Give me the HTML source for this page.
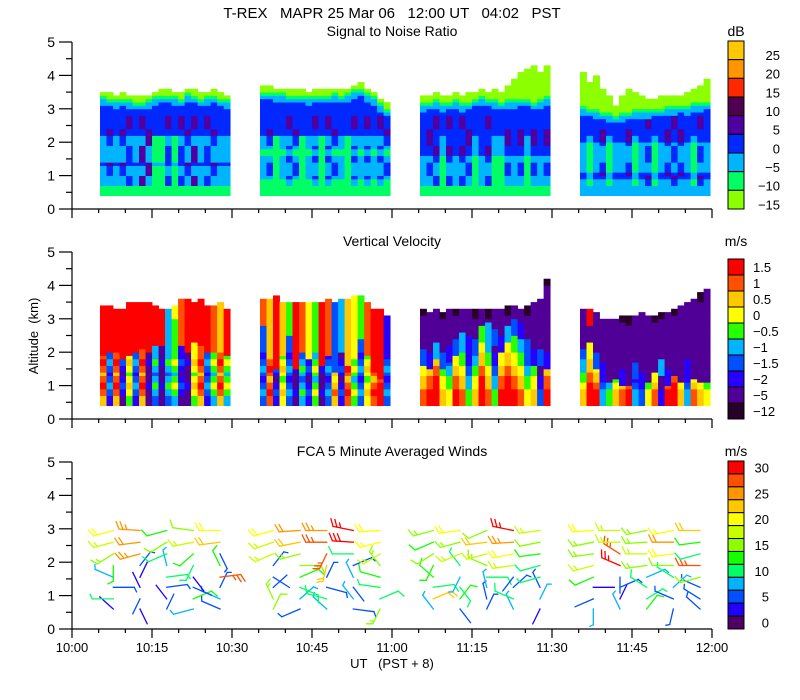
<!DOCTYPE html>
<html><head><meta charset="utf-8"><style>
html,body{margin:0;padding:0;background:#fff;}
svg{display:block;font-family:"Liberation Sans",sans-serif;}
text{white-space:pre;}
</style></head><body>
<svg id="chart" width="800" height="700" viewBox="0 0 800 700" xmlns="http://www.w3.org/2000/svg" xml:space="preserve">
<text x="392" y="18" font-size="15" text-anchor="middle">T-REX   MAPR 25 Mar 06   12:00 UT   04:02   PST</text>
<text x="392" y="36" font-size="14" text-anchor="middle">Signal to Noise Ratio</text>
<text x="392" y="246" font-size="14" text-anchor="middle">Vertical Velocity</text>
<text x="392" y="456" font-size="14" text-anchor="middle">FCA 5 Minute Averaged Winds</text>
<text x="736" y="36" font-size="14" text-anchor="middle">dB</text>
<text x="736" y="246" font-size="14" text-anchor="middle">m/s</text>
<text x="736" y="456" font-size="14" text-anchor="middle">m/s</text>
<text x="0" y="0" font-size="13" text-anchor="middle" transform="translate(38,336) rotate(-90)">Altitude  (km)</text>
<text x="392" y="668" font-size="13" text-anchor="middle">UT   (PST + 8)</text>
<g id="layer"></g>
</svg>
<script>
// ---------- data ----------
const segStart = [5.25, 35.25, 65.25, 95.25];
const segDur = 24.4;
const snrLabels = ['25','20','15','10','5','0','\u22125','\u221210','\u221215'];
const velLabels = ['1.5','1','0.5','0','\u22120.5','\u22121','\u22121.5','\u22122','\u22125','\u221212'];
const windLabels = ['30','25','20','15','10','5','0'];
const xTickLabels = ['10:00','10:15','10:30','10:45','11:00','11:15','11:30','11:45','12:00'];
const yTickLabels = ['0','1','2','3','4','5'];

// SNR (class indices 0=lime ... 8=amber)
const snrProfile1 = [1,2,2,2,3,2,2,2,2,3,3,3,3,3,3,3,3,3];
const snrProfile2 = [1,1,2,2,2,2,1,2,2,3,3,3,3,3,3,3,3,3];
const snrProfile3 = [1,2,2,2,2,2,3,3,3,3,3,3,3,3,3,3,3,3];
const snrProfile4 = [2,2,3,2,2,2,2,2,3,3,3,3,3,3,3,3,3,3];
const snrTop1 = [3.5,3.45,3.4,3.45,3.4,3.35,3.35,3.4,3.5,3.55,3.55,3.5,3.45,3.6,3.55,3.45,3.5,3.55,3.45,3.4];
const snrTop2 = [3.65,3.65,3.6,3.6,3.55,3.55,3.55,3.5,3.55,3.55,3.55,3.6,3.55,3.6,3.7,3.75,3.6,3.5,3.3,3.15];
const snrTop3 = [3.3,3.35,3.4,3.3,3.35,3.4,3.3,3.35,3.45,3.5,3.45,3.4,3.35,3.4,3.4,3.45,3.45,3.35,3.4,3.5];
const snrTop4 = [3.2,3.15,3.1,3.05,3.0,2.95,3.0,3.05,3.1,3.1,3.1,3.15,3.15,3.2,3.2,3.25,3.2,3.3,3.3,3.35];
const snrExt3 = [3.4,3.4,3.5,3.4,3.4,3.5,3.4,3.5,3.5,3.6,3.5,3.6,3.5,3.7,3.9,4.1,4.2,4.3,4.1,4.3];
const snrExt4 = [4.1,3.8,4.0,3.6,3.4,3.1,3.4,3.6,3.5,3.4,3.3,3.3,3.4,3.4,3.4,3.4,3.5,3.6,3.7,3.9];
const snrAnom1 = [0,1,0,1,1,0,2,2,-1,-1,1,-1,1,1,2,0,1,1,0,0];
const snrAnom2 = [0,1,-1,0,1,1,-1,0,1,-1,1,1,0,-1,1,0,1,0,1,1];
const snrAnom3 = [0,1,1,-1,1,0,1,1,-1,0,1,-1,-1,1,0,1,-1,1,0,1];
const snrAnom4 = [0,-1,0,1,-1,0,0,1,-1,0,1,-1,0,1,1,1,0,-1,1,0];

// Vertical velocity (class 0=-12 ... 9=1.5)
const velTop1 = [3.35,3.35,3.3,3.3,3.5,3.5,3.5,3.45,3.4,3.25,3.3,3.4,3.55,3.6,3.45,3.55,3.4,3.35,3.5,3.3];
const velTop2 = [3.6,3.6,3.65,3.5,3.5,3.5,3.5,3.5,3.5,3.5,3.55,3.5,3.55,3.6,3.65,3.7,3.5,3.3,3.3,3.1];
const velTop3 = [3.3,3.2,3.3,3.2,3.25,3.3,3.3,3.3,3.25,3.3,3.25,3.3,3.3,3.35,3.4,3.3,3.35,3.45,3.6,4.2];
const velTop4 = [3.25,3.25,3.15,3.0,3.0,3.0,3.1,3.05,3.1,3.15,3.1,3.1,3.2,3.2,3.3,3.4,3.5,3.6,3.75,3.85];
const velUpper1 = [9,9,9,9,9,9,9,9,9,9,7,6,8,9,9,9,9,8,7,9];
const velUpper2 = [8,7,9,7,5,9,8,6,5,9,8,3,4,7,6,5,8,9,9,2];
const velUpper3 = [1,1,1,1,1,1,1,1,1,1,1,1,1,1,1,1,1,1,1,1];
const velUpper4 = [1,9,1,1,1,1,1,1,1,1,1,1,1,1,1,1,1,1,1,1];
const velSplit1 = [1.9,2.0,2.0,1.8,1.9,2.0,2.1,2.0,2.2,2.2,3.3,3.0,2.2,2.0,2.3,2.2,2.0,2.0,2.0,1.9];
const velSplit2 = [2.8,2.0,1.5,1.9,2.5,1.5,2.0,1.8,2.2,1.6,1.9,1.4,2.0,1.6,1.8,2.4,1.9,1.6,1.2,2.0];
const velSplit3 = [1.6,1.5,1.8,1.5,1.7,1.9,2.1,2.0,1.9,2.3,2.4,2.2,2.0,2.3,2.5,2.4,1.9,1.6,1.6,1.5];
const velSplit4 = [2.1,2.3,1.5,1.2,1.1,1.2,1.0,1.0,1.2,0.9,1.1,1.4,1.3,1.0,1.3,1.1,1.3,1.2,1.1,1.1];
const velLower1 = [8,3,8,2,6,3,8,1,4,1,4,5,2,1,6,8,3,5,8,5];
const velLower2 = [3,8,2,6,3,1,4,2,5,1,3,7,2,8,5,3,6,8,9,3];
const velLower3 = [7,8,9,6,5,8,7,4,6,9,7,4,8,9,8,7,5,6,2,8];
const velLower4 = [6,9,8,3,4,6,7,8,3,2,5,7,1,8,9,6,3,7,6,5];
const velRowMod1 = [-1,0,1,0,-1,0,1,0,0,0,0,0,0,0,0,0,0,0];
const velRowMod2 = [0,1,0,-1,0,1,0,-1,0,0,0,0,0,0,0,0,0,0];
const velRowMod3 = [1,1,0,0,-1,-1,-2,-2,-3,-3,-3,-3,-3,-3,-3,-3,-3,-3];
const velRowMod4 = [1,1,0,-1,-1,-2,-2,-3,-3,-3,-3,-3,-3,-3,-3,-3,-3,-3];
const velMid3 = [3,2,4,3,2,3,4,2,3,5,4,3,2,4,3,2,3,2,3,2];
const velMid4 = [1,1,3,2,1,1,2,1,3,2,1,1,4,2,1,1,2,1,1,1];
const velCap3 = [1,0,0,1,0,1,0,0,1,0,1,0,0,1,0,0,1,0,0,1];
const velCap4 = [0,0,0,0,0,0,1,1,0,0,0,1,1,0,1,0,0,0,1,0];

// Winds: levels (km), 5 times per segment; speed (m/s) & direction (deg from)
const windLevels = [0.6,0.9,1.25,1.55,1.9,2.25,2.6,2.95];
const windSpd1 = [3,2,4,8,6, 9,4,3,12,7, 6,2,6,4,5, 8,2,9,3,28, 12,6,8,10,13, 15,26,10,12,5, 17,24,14,18,22, 20,26,13,14,20];
const windDir1 = [320,160,20,250,300, 270,200,330,60,300, 90,340,80,120,20, 300,20,80,150,80, 180,30,350,200,340, 230,250,240,220,160, 250,260,230,255,260, 250,275,250,280,270];
const windSpd2 = [14,5,7,6,15, 16,7,10,8,10, 4,10,5,4,9, 4,12,6,7,12, 5,15,22,6,15, 17,15,27,10,18, 18,22,28,30,19, 20,24,25,29,21];
const windDir2 = [20,240,320,100,200, 340,40,290,330,60, 40,120,110,150,280, 130,60,20,340,290, 30,90,190,60,330, 240,250,200,270,230, 245,255,270,275,250, 250,265,270,285,265];
const windSpd3 = [7,4,6,8,3, 22,13,5,10,7, 10,11,8,5,6, 12,7,11,4,9, 13,9,15,17,10, 14,18,17,20,13, 13,16,22,26,14, 16,20,14,29,18];
const windDir3 = [330,150,20,340,200, 60,30,350,300,20, 80,150,350,40,340, 320,200,90,210,250, 200,330,300,260,250, 230,240,250,255,260, 240,250,260,265,255, 250,260,240,285,260];
const windSpd4 = [7,8,13,5,6, 4,3,9,6,5, 2,5,10,7,6, 12,4,7,9,16, 17,29,15,14,28, 16,27,18,21,11, 15,17,16,24,13, 21,18,16,19,22];
const windDir4 = [180,340,30,190,320, 240,20,50,300,310, 90,60,310,40,300, 240,180,60,310,250, 250,300,260,270,270, 260,310,270,260,250, 255,270,265,270,260, 265,270,255,255,270];

// ---------- styles ----------
const snrColors = ['#8cff00','#00ff64','#00b4ff','#0028ff','#5000a0','#500050','#ff2800','#ff9600','#ffc800'];
const velColors = ['#280028','#500096','#2800ff','#0050ff','#00b4ff','#28ff00','#ffff00','#ffc800','#ff5000','#ff0000'];
const windColors = ['#500064','#2000ff','#0050ff','#00b4ff','#00ff64','#14ff00','#8cff00','#c8ff00','#ffff00','#ffc800','#ff9600','#ff5000','#ff0000'];
const bases = [209, 419, 629];
const KM = 33.4;
const X = m => 72 + m * 640 / 120;
const Y = (a, p) => bases[p] - a * KM;
const NS = 'http://www.w3.org/2000/svg';
const layer = document.getElementById('layer');
function mk(tag, attrs, parent) {
  const e = document.createElementNS(NS, tag);
  for (const k in attrs) e.setAttribute(k, attrs[k]);
  (parent || layer).appendChild(e);
  return e;
}
const clamp = (v, lo, hi) => Math.max(lo, Math.min(hi, v));
const ROW = 0.1;

// ---------- SNR heatmap ----------
const snrP = [snrProfile1, snrProfile2, snrProfile3, snrProfile4];
const snrT = [snrTop1, snrTop2, snrTop3, snrTop4];
const snrE = [null, null, snrExt3, snrExt4];
const snrA = [snrAnom1, snrAnom2, snrAnom3, snrAnom4];
const gS = mk('g', {});


for (let s = 0; s < 4; s++) {
  const n = snrT[s].length, cw = segDur / n;
  for (let c = 0; c < n; c++) {
    const x0 = X(segStart[s] + c * cw), x1 = X(segStart[s] + (c + 1) * cw);
    const top = snrT[s][c];
    const ext = snrE[s] ? snrE[s][c] : top;
    for (let a = 0.4; a < Math.max(top, ext) - 1e-6; a += ROW) {
      const mid = a + ROW / 2;
      let k;
      if (mid > top) k = 0;
      else {
        const d = top - mid;
        if (d < 0.1) k = 0; else if (d < 0.2) k = 1; else if (d < 0.35) k = 2;
        else {
          const r = clamp(Math.floor((a - 0.4) / 0.2), 0, snrP[s].length - 1);
          k = snrP[s][r];
          const an = snrA[s][c];
          const half = Math.floor((a - 0.4) / 0.5) % 2;
          if (r >= 1 && r <= 11 && !(r >= 9 && an < 0) && (half === (c % 2) || an < 0)) k = clamp(k + an, 1, 4);
        }
      }
      const rc = mk('rect', {x: x0.toFixed(2), y: Y(a + ROW, 0).toFixed(2), width: (x1 - x0 + 0.4).toFixed(2), height: (ROW * KM + 0.4).toFixed(2), fill: snrColors[k]}, gS);
      
      
    }
  }
}

// ---------- Velocity heatmap ----------
const vT = [velTop1, velTop2, velTop3, velTop4];
const vU = [velUpper1, velUpper2, velUpper3, velUpper4];
const vS = [velSplit1, velSplit2, velSplit3, velSplit4];
const vL = [velLower1, velLower2, velLower3, velLower4];
const vR = [velRowMod1, velRowMod2, velRowMod3, velRowMod4];
const vM = [null, null, velMid3, velMid4];
const vC = [null, null, velCap3, velCap4];
const gV = mk('g', {});


for (let s = 0; s < 4; s++) {
  const n = vT[s].length, cw = segDur / n;
  for (let c = 0; c < n; c++) {
    const x0 = X(segStart[s] + c * cw), x1 = X(segStart[s] + (c + 1) * cw);
    const top = vT[s][c];
    for (let a = 0.4; a < top - 1e-6; a += ROW) {
      const mid = a + ROW / 2;
      let k;
      if (vC[s] && vC[s][c] && top - mid < 0.2) k = 0;
      else if (vM[s] && mid >= vS[s][c] && mid < vS[s][c] + 0.5) k = vM[s][c];
      else if (mid >= vS[s][c]) k = vU[s][c];
      else {
        const r = clamp(Math.floor((a - 0.4) / 0.2), 0, vR[s].length - 1);
        k = clamp(vL[s][c] + vR[s][r], 1, 9);
      }
      const rc = mk('rect', {x: x0.toFixed(2), y: Y(a + ROW, 1).toFixed(2), width: (x1 - x0 + 0.4).toFixed(2), height: (ROW * KM + 0.4).toFixed(2), fill: velColors[k]}, gV);
      
      
    }
  }
}

// ---------- Wind barbs ----------
const wS = [windSpd1, windSpd2, windSpd3, windSpd4];
const wD = [windDir1, windDir2, windDir3, windDir4];
const gW = mk('g', {'stroke-width': 1.3, fill: 'none', 'stroke-linecap': 'square'});


for (let s = 0; s < 4; s++) {
  for (let l = 0; l < windLevels.length; l++) {
    for (let t = 0; t < 5; t++) {
      const i = l * 5 + t;
      const sp = wS[s][i], dir = wD[s][i] * Math.PI / 180;
      const px = X(segStart[s] + 2.5 + t * 5), py = Y(windLevels[l], 2);
      const ux = Math.sin(dir), uy = -Math.cos(dir) * 0.75;
      const L = 21;
      const ex = px + ux * L, ey = py + uy * L;
      const col = windColors[clamp(Math.round(sp / 2.5), 0, 12)];
      let d = `M${px.toFixed(1)},${py.toFixed(1)}L${ex.toFixed(1)},${ey.toFixed(1)}`;
      const fx = -uy * 0.9 + ux * 0.44, fy = ux * 0.9 + uy * 0.44;
      let rem = sp, pos = 0;
      while (rem >= 9.99 && pos < 4) {
        const bx = ex - ux * pos * 4, by = ey - uy * pos * 4;
        d += `M${bx.toFixed(1)},${by.toFixed(1)}l${(fx * 8).toFixed(1)},${(fy * 8).toFixed(1)}`;
        rem -= 10; pos++;
      }
      if (rem >= 5) {
        const bx = ex - ux * pos * 4, by = ey - uy * pos * 4;
        d += `M${bx.toFixed(1)},${by.toFixed(1)}l${(fx * 5).toFixed(1)},${(fy * 5).toFixed(1)}`;
      }
      const p = mk('path', {d: d, stroke: col}, gW);
      
      
    }
  }
}

// ---------- Axes ----------
for (let p = 0; p < 3; p++) {
  const g = mk('g', {stroke: '#000', 'stroke-width': 1.2, fill: 'none'});
  
  
  mk('line', {x1: 72, y1: Y(5, p), x2: 72, y2: Y(0, p)}, g);
  mk('line', {x1: 72, y1: Y(0, p), x2: 712, y2: Y(0, p)}, g);
  for (let h = 0; h <= 10; h++) {
    const yy = Y(h * 0.5, p);
    mk('line', {x1: h % 2 ? 66 : 59, y1: yy, x2: 72, y2: yy}, g);
  }
  for (let m = 0; m <= 120; m += 5) {
    const xx = X(m);
    mk('line', {x1: xx, y1: Y(0, p), x2: xx, y2: Y(0, p) + (m % 15 ? 4 : 9)}, g);
  }
  yTickLabels.forEach((lab, i) => {
    const t = mk('text', {x: 55, y: Y(i, p) + 5, 'font-size': 14, 'text-anchor': 'end'});
    t.textContent = lab;
    
    
  });
}
xTickLabels.forEach((lab, i) => {
  const t = mk('text', {x: X(i * 15), y: 652, 'font-size': 13, 'text-anchor': 'middle'});
  t.textContent = lab;
  
  
});

// ---------- Colorbars ----------
function colorbar(name, colors, top, bottom, labels, labelIdx, lx, anchor) {
  const g = mk('g', {});
  
  
  const n = colors.length, h = (bottom - top) / n;
  for (let i = 0; i < n; i++) {
    const r = mk('rect', {x: 728, y: top + i * h, width: 16, height: h, fill: colors[n - 1 - i], stroke: '#000', 'stroke-width': 1}, g);
    
    
  }
  labels.forEach((lab, j) => {
    const yy = top + (labelIdx(j) + 0.5) * h;
    const t = mk('text', {x: lx, y: yy + 5, 'font-size': 13, 'text-anchor': anchor}, g);
    t.textContent = lab;
    
    
  });
}
colorbar('snr-colorbar', snrColors, 41, 209, snrLabels, j => j + 0.25, 780, 'end');
colorbar('velocity-colorbar', velColors, 259, 419, velLabels, j => j, 753, 'start');
colorbar('wind-colorbar', windColors, 461, 629, windLabels, j => j * 2, 769, 'end');
</script>
</body></html>
